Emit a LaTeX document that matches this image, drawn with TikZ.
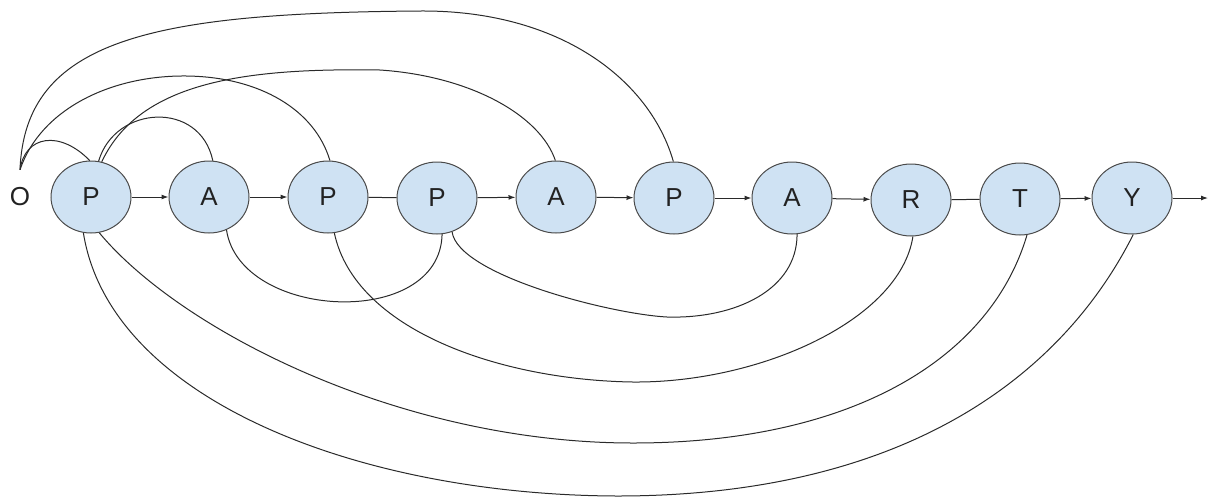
\documentclass[tikz,border=0pt]{standalone}
\usepackage{fontspec}
\setmainfont{Liberation Sans}
\usetikzlibrary{shapes.geometric,arrows.meta}
\definecolor{nodeblue}{HTML}{CFE2F3}
\definecolor{edgegray}{HTML}{4A4A4A}
\definecolor{linecol}{HTML}{2A2A2A}
\definecolor{txt}{HTML}{222222}
\begin{document}
\begin{tikzpicture}[x=1pt,y=-1pt,
  st/.style={ellipse,draw=edgegray,fill=nodeblue,line width=1pt,minimum width=80pt,minimum height=72pt,inner sep=0pt,font=\fontsize{26}{26}\selectfont,text=txt},
  lk/.style={draw=linecol,line width=1pt},
  ar/.style={lk,-{Latex[length=7pt,width=5pt]}}]
\useasboundingbox (0,0) rectangle (1209,499);
\node[inner sep=0pt,minimum height=54pt,font=\fontsize{26}{26}\selectfont,text=txt] (O) at (20,197) {O};
\node[st] (P1) at (91,197) {P};
\node[st] (A1) at (209,197) {A};
\node[st] (P2) at (328,197) {P};
\node[st] (P3) at (437,198) {P};
\node[st] (A2) at (556,197) {A};
\node[st] (P4) at (674,198) {P};
\node[st] (A3) at (792,198) {A};
\node[st] (R) at (911,200) {R};
\node[st] (T) at (1020,199) {T};
\node[st] (Y) at (1132,198) {Y};
\coordinate (end) at (1208,198);
% chain
\draw[ar] (P1) -- (A1);
\draw[ar] (A1) -- (P2);
\draw[lk] (P2) -- (P3);
\draw[ar] (P3) -- (A2);
\draw[ar] (A2) -- (P4);
\draw[ar] (P4) -- (A3);
\draw[ar] (A3) -- (R);
\draw[lk] (R) -- (T);
\draw[ar] (T) -- (Y);
\draw[ar] (Y) -- (end);
% top arcs
\draw[lk] (O.north) .. controls (25,40) and (150,13) .. (420,11) .. controls (560,10) and (650,80) .. (P4.91);
\draw[lk] (O.north) .. controls (40,110) and (110,75) .. (187,76) .. controls (260,77) and (315,110) .. (P2.87);
\draw[lk] (O.north) .. controls (25,135) and (60,130) .. (P1.92);
\draw[lk] (P1.78) .. controls (115,105) and (200,100) .. (A1.84);
\draw[lk] (P1.73) .. controls (140,80) and (250,68) .. (380,70) .. controls (470,76) and (540,115) .. (A2.91);
% bottom arcs
\draw[lk] (A1.-62) .. controls (240,320) and (440,330) .. (P3.-82);
\draw[lk] (P2.-80) .. controls (355,330) and (500,380) .. (633,382) .. controls (760,383) and (900,320) .. (R.-87);
\draw[lk] (P3.-66) .. controls (458,275) and (610,314) .. (667,317) .. controls (735,319) and (797,290) .. (A3.-82);
\draw[lk] (P1.-77) .. controls (180,330) and (400,443) .. (633,443) .. controls (850,443) and (990,360) .. (T.-79);
\draw[lk] (P1.-102) .. controls (110,400) and (360,495) .. (617,496) .. controls (900,496) and (1060,380) .. (Y.-88);
\end{tikzpicture}
\end{document}
